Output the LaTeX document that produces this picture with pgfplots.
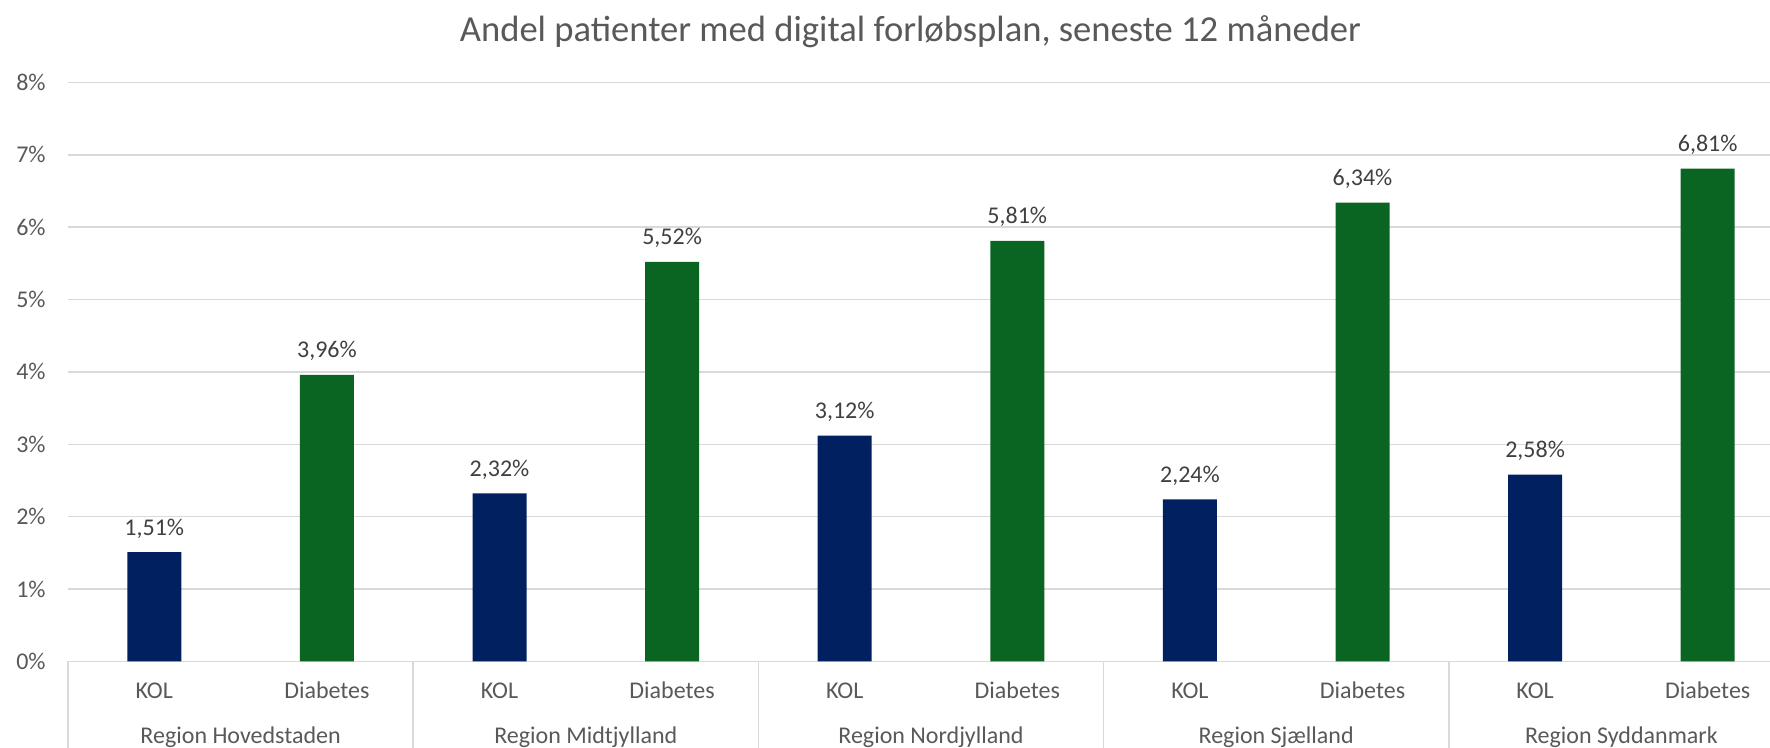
\documentclass[border=0pt]{standalone}
\usepackage{fontspec}
\setmainfont{Carlito}
\usepackage{pgfplots}
\pgfplotsset{compat=1.18}

\definecolor{kolblue}{RGB}{0,32,96}
\definecolor{diagreen}{RGB}{10,101,35}
\definecolor{gridgray}{RGB}{217,217,217}
\definecolor{txtgray}{RGB}{89,89,89}
\definecolor{lblgray}{RGB}{64,64,64}

\begin{document}
\begin{tikzpicture}
  \begin{axis}[
    at={(0,0)}, anchor=south west,
    scale only axis,
    width=851pt, height=289.5pt,
    xmin=-0.5, xmax=9.361,
    ymin=0, ymax=8,
    ybar, bar width=27pt, bar shift=0pt,
    /pgf/number format/assume math mode=true,
    axis x line*=bottom, axis y line*=left,
    x axis line style={draw=gridgray, line width=0.75pt},
    y axis line style={draw=none},
    ymajorgrids, grid style={draw=gridgray, line width=0.75pt},
    major tick length=0pt,
    ytick={0,1,...,8},
    yticklabel={\pgfmathprintnumber{\tick}\%},
    yticklabel style={anchor=east, inner sep=0pt, xshift=-11pt,
      font=\fontsize{12}{14}\selectfont, text=txtgray},
    xtick={0,1,...,9},
    xticklabels={KOL,Diabetes,KOL,Diabetes,KOL,Diabetes,KOL,Diabetes,KOL,Diabetes},
    xticklabel style={anchor=base, inner sep=0pt, yshift=-18.8pt,
      font=\fontsize{12}{14}\selectfont, text=txtgray},
    extra x ticks={-0.5,1.5,3.5,5.5,7.5},
    extra x tick labels={},
    extra x tick style={major tick length=43.3pt, tick align=outside,
      tick style={draw=gridgray, line width=0.75pt}},
    title={Andel patienter med digital forløbsplan, seneste 12 måneder},
    title style={at={(0.495,1)}, anchor=center, yshift=19.6pt,
      font=\fontsize{18.3}{21}\selectfont, text=txtgray},
    point meta=y,
    nodes near coords={\pgfmathprintnumber[fixed,fixed zerofill,precision=2,use comma]{\pgfplotspointmeta}\%},
    every node near coord/.append style={anchor=base, inner sep=0pt, yshift=8.5pt,
      font=\fontsize{12}{14}\selectfont, text=lblgray},
    clip=false,
  ]
    % KOL
    \addplot[fill=kolblue, draw=none] coordinates {
      (0,1.51) (2,2.32) (4,3.12) (6,2.24) (8,2.58)};
    % Diabetes
    \addplot[fill=diagreen, draw=none] coordinates {
      (1,3.96) (3,5.52) (5,5.81) (7,6.34) (9,6.81)};
    \foreach \x/\name in {0.5/Region Hovedstaden, 2.5/Region Midtjylland,
        4.5/Region Nordjylland, 6.5/Region Sjælland, 8.5/Region Syddanmark} {
      \edef\temp{\noexpand\node[anchor=base, inner sep=0pt, yshift=-41.3pt,
        font=\noexpand\fontsize{12}{14}\noexpand\selectfont, text=txtgray]
        at (axis cs:\x,0) {\name};}
      \temp
    }
  \end{axis}
  \pgfresetboundingbox
  \path[use as bounding box] (-34pt,-43.25pt) rectangle (851pt,330.7pt);
\end{tikzpicture}
\end{document}
